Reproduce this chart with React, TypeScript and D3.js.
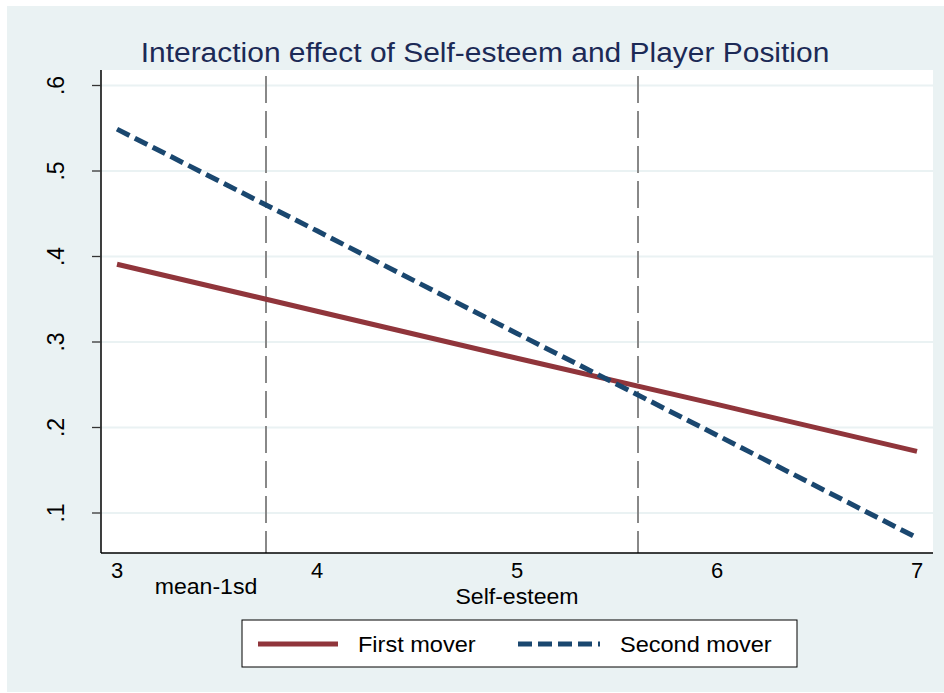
import React from "react";
import * as d3 from "d3";

const selfEsteem = [3, 4, 5, 6, 7];
const firstMover = [0.391, 0.336, 0.281, 0.227, 0.172];
const secondMover = [0.549, 0.43, 0.31, 0.191, 0.071];
const xTicks = [3, 4, 5, 6, 7];
const yTicks = [0.1, 0.2, 0.3, 0.4, 0.5, 0.6];
const yTickLabels = [".1", ".2", ".3", ".4", ".5", ".6"];
const refLines = [3.745, 5.605];
const seriesNames = ["First mover", "Second mover"];
const titleText = "Interaction effect of Self-esteem and Player Position";
const xTitle = "Self-esteem";
const refLabel = "mean-1sd";

const BG = "#eaf2f3";
const RED = "#90353b";
const NAVY = "#1a476f";
const FONT = "'Liberation Sans', Arial, sans-serif";

export default function App() {
  const plot = { left: 101, right: 933, top: 70, bottom: 553 };
  const x = d3.scaleLinear().domain([3, 7]).range([117, 917]);
  const y = d3.scaleLinear().domain([0.1, 0.6]).range([513, 85.5]);
  const line = d3
    .line<number>()
    .x((_, i) => x(selfEsteem[i]))
    .y((d) => y(d));

  const txt = (cx: number, by: number, s: string, size: number, sx: number, opts: any = {}) => (
    <text
      transform={`translate(${cx},${by}) scale(${sx},1)`}
      textAnchor={opts.anchor || "middle"}
      fontSize={size}
      fontFamily={FONT}
      fill={opts.fill || "#000"}
    >
      {s}
    </text>
  );

  return (
    <svg
      width={944}
      height={693}
      style={{ position: "absolute", left: 0, top: 0, display: "block" }}
    >
      <rect x={0} y={0} width={944} height={693} fill="#fff" />
      <rect x={7} y={6} width={937} height={686} fill={BG} />
      <rect
        x={plot.left}
        y={plot.top}
        width={plot.right - plot.left}
        height={plot.bottom - plot.top}
        fill="#fff"
      />
      {yTicks.map((t) => (
        <line
          key={"g" + t}
          x1={plot.left}
          x2={plot.right}
          y1={y(t)}
          y2={y(t)}
          stroke={BG}
          strokeWidth={2}
        />
      ))}
      {refLines.map((r) => (
        <line
          key={"r" + r}
          x1={x(r)}
          x2={x(r)}
          y1={plot.top}
          y2={plot.bottom}
          stroke="#888"
          strokeWidth={2}
          strokeDasharray="27 8"
          strokeDashoffset={29}
        />
      ))}
      <path d={line(firstMover) || ""} fill="none" stroke={RED} strokeWidth={5} />
      <path
        d={line(secondMover) || ""}
        fill="none"
        stroke={NAVY}
        strokeWidth={5}
        strokeDasharray="14 6"
      />
      <line x1={plot.left} x2={plot.left} y1={plot.top} y2={plot.bottom} stroke="#000" strokeWidth={1.5} />
      <line x1={plot.left} x2={plot.right} y1={plot.bottom} y2={plot.bottom} stroke="#000" strokeWidth={1.5} />
      {yTicks.map((t, i) => (
        <g key={"yt" + t}>
          <line x1={92} x2={plot.left} y1={y(t)} y2={y(t)} stroke="#333" strokeWidth={1.3} />
          <text
            transform={`translate(64,${y(t)}) rotate(-90)`}
            textAnchor="middle"
            fontSize={23}
            fontFamily={FONT}
          >
            {yTickLabels[i]}
          </text>
        </g>
      ))}
      {xTicks.map((t) => (
        <g key={"xt" + t}>{txt(x(t), 578, String(t), 22, 1.0)}</g>
      ))}
      {txt(206, 594, refLabel, 22, 1.05)}
      {txt(517, 604, xTitle, 22, 1.05)}
      {txt(485, 62, titleText, 28, 1.07, { fill: "#1c2a56" })}
      <rect x={242} y={620} width={555} height={47} fill="#fff" stroke="#000" strokeWidth={1} />
      <line x1={258} x2={338} y1={644} y2={644} stroke={RED} strokeWidth={5} />
      <line x1={518} x2={600} y1={644} y2={644} stroke={NAVY} strokeWidth={5} strokeDasharray="14 6" />
      {txt(358, 652, seriesNames[0], 22, 1.07, { anchor: "start" })}
      {txt(620, 652, seriesNames[1], 22, 1.07, { anchor: "start" })}
    </svg>
  );
}
